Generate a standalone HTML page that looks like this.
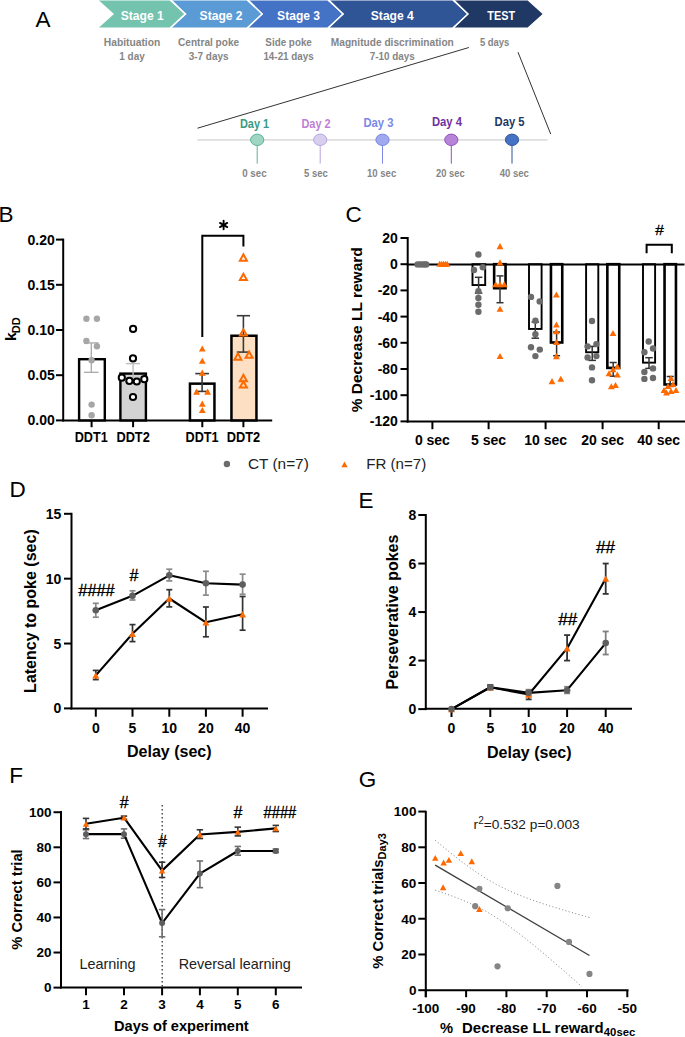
<!DOCTYPE html><html><head><meta charset="utf-8"><style>html,body{margin:0;padding:0;background:#fff;}svg{display:block;}</style></head><body>
<svg width="685" height="1037" viewBox="0 0 685 1037" font-family='"Liberation Sans", sans-serif'>
<rect width="685" height="1037" fill="#fff"/>
<text x="35.4" y="27.3" font-size="22.5" font-weight="normal" text-anchor="start" fill="#000" >A</text>
<polygon points="99,0.45 169.6,0.45 184.6,13.924999999999999 169.6,27.4 99,27.4 114,13.924999999999999" fill="#73C3AE"/>
<polygon points="171.7,0.45 246.6,0.45 261.6,13.924999999999999 246.6,27.4 171.7,27.4 186.7,13.924999999999999" fill="#5B9BD5"/>
<polygon points="248.2,0.45 327.4,0.45 342.4,13.924999999999999 327.4,27.4 248.2,27.4 263.2,13.924999999999999" fill="#4472C4"/>
<polygon points="329.2,0.45 452.3,0.45 467.3,13.924999999999999 452.3,27.4 329.2,27.4 344.2,13.924999999999999" fill="#2F5597"/>
<polygon points="454.0,0.45 527.6,0.45 542.6,13.924999999999999 527.6,27.4 454.0,27.4 469.0,13.924999999999999" fill="#203864"/>
<text x="142.2" y="19.6" font-size="13.5" font-weight="bold" text-anchor="middle" fill="#fff" textLength="43" lengthAdjust="spacingAndGlyphs" >Stage 1</text>
<text x="221.1" y="19.6" font-size="13.5" font-weight="bold" text-anchor="middle" fill="#fff" textLength="43" lengthAdjust="spacingAndGlyphs" >Stage 2</text>
<text x="298.6" y="19.6" font-size="13.5" font-weight="bold" text-anchor="middle" fill="#fff" textLength="43" lengthAdjust="spacingAndGlyphs" >Stage 3</text>
<text x="392.3" y="19.6" font-size="13.5" font-weight="bold" text-anchor="middle" fill="#fff" textLength="43" lengthAdjust="spacingAndGlyphs" >Stage 4</text>
<text x="501.2" y="19.6" font-size="13.5" font-weight="bold" text-anchor="middle" fill="#fff" textLength="27.7" lengthAdjust="spacingAndGlyphs" >TEST</text>
<polyline points="170.1,-1 185.1,13.924999999999999 170.1,28.4" fill="none" stroke="#fff" stroke-width="1.4"/>
<polyline points="247.1,-1 262.1,13.924999999999999 247.1,28.4" fill="none" stroke="#fff" stroke-width="1.4"/>
<polyline points="327.9,-1 342.9,13.924999999999999 327.9,28.4" fill="none" stroke="#fff" stroke-width="1.4"/>
<polyline points="452.8,-1 467.8,13.924999999999999 452.8,28.4" fill="none" stroke="#fff" stroke-width="1.4"/>
<text x="132.0" y="46.4" font-size="11.5" font-weight="bold" text-anchor="middle" fill="#858585" textLength="56.5" lengthAdjust="spacingAndGlyphs" >Habituation</text>
<text x="132.0" y="60.2" font-size="11.5" font-weight="bold" text-anchor="middle" fill="#858585" textLength="25.4" lengthAdjust="spacingAndGlyphs" >1 day</text>
<text x="208.6" y="46.4" font-size="11.5" font-weight="bold" text-anchor="middle" fill="#858585" textLength="61" lengthAdjust="spacingAndGlyphs" >Central poke</text>
<text x="208.6" y="60.2" font-size="11.5" font-weight="bold" text-anchor="middle" fill="#858585" textLength="39.9" lengthAdjust="spacingAndGlyphs" >3-7 days</text>
<text x="288.6" y="46.4" font-size="11.5" font-weight="bold" text-anchor="middle" fill="#858585" textLength="46.5" lengthAdjust="spacingAndGlyphs" >Side poke</text>
<text x="288.6" y="60.2" font-size="11.5" font-weight="bold" text-anchor="middle" fill="#858585" textLength="50.4" lengthAdjust="spacingAndGlyphs" >14-21 days</text>
<text x="392.3" y="46.4" font-size="11.5" font-weight="bold" text-anchor="middle" fill="#858585" textLength="123" lengthAdjust="spacingAndGlyphs" >Magnitude discrimination</text>
<text x="392.3" y="60.2" font-size="11.5" font-weight="bold" text-anchor="middle" fill="#858585" textLength="45" lengthAdjust="spacingAndGlyphs" >7-10 days</text>
<text x="494.6" y="45.9" font-size="11.5" font-weight="bold" text-anchor="middle" fill="#858585" textLength="29.4" lengthAdjust="spacingAndGlyphs" >5 days</text>
<line x1="197.5" y1="128.2" x2="468.9" y2="47.5" stroke="#333" stroke-width="1.0" />
<line x1="518" y1="52.2" x2="550.7" y2="134" stroke="#333" stroke-width="1.0" />
<line x1="197.3" y1="139.9" x2="547.6" y2="139.9" stroke="#DEDEDE" stroke-width="1.8" />
<line x1="257.2" y1="140" x2="257.2" y2="163.6" stroke="#5DB39A" stroke-width="1.0" />
<ellipse cx="257.2" cy="139.8" rx="6.6" ry="5.7" fill="#9FD5C3" stroke="#5DB39A" stroke-width="1"/>
<text x="254.5" y="127.60000000000001" font-size="13.2" font-weight="bold" text-anchor="middle" fill="#389A80" textLength="29.2" lengthAdjust="spacingAndGlyphs" >Day 1</text>
<text x="254.4" y="177.4" font-size="11" font-weight="bold" text-anchor="middle" fill="#858585" textLength="24.4" lengthAdjust="spacingAndGlyphs" >0 sec</text>
<line x1="320.2" y1="140" x2="320.2" y2="163.6" stroke="#B9A6DF" stroke-width="1.0" />
<ellipse cx="320.2" cy="139.8" rx="6.6" ry="5.7" fill="#D8CEEE" stroke="#B9A6DF" stroke-width="1"/>
<text x="316.0" y="127.60000000000001" font-size="13.2" font-weight="bold" text-anchor="middle" fill="#BF7FD6" textLength="29.2" lengthAdjust="spacingAndGlyphs" >Day 2</text>
<text x="316.0" y="177.4" font-size="11" font-weight="bold" text-anchor="middle" fill="#858585" textLength="23.8" lengthAdjust="spacingAndGlyphs" >5 sec</text>
<line x1="382.5" y1="140" x2="382.5" y2="163.6" stroke="#7C88E4" stroke-width="1.0" />
<ellipse cx="382.5" cy="139.8" rx="6.6" ry="5.7" fill="#A0A8F0" stroke="#7C88E4" stroke-width="1"/>
<text x="378.4" y="127.4" font-size="13.2" font-weight="bold" text-anchor="middle" fill="#7B89E6" textLength="30" lengthAdjust="spacingAndGlyphs" >Day 3</text>
<text x="381.6" y="177.4" font-size="11" font-weight="bold" text-anchor="middle" fill="#858585" textLength="29.2" lengthAdjust="spacingAndGlyphs" >10 sec</text>
<line x1="451.3" y1="140" x2="451.3" y2="163.6" stroke="#8F52BE" stroke-width="1.0" />
<ellipse cx="451.3" cy="139.8" rx="6.6" ry="5.7" fill="#B784DA" stroke="#8F52BE" stroke-width="1"/>
<text x="446.9" y="125.7" font-size="13.2" font-weight="bold" text-anchor="middle" fill="#7030A0" textLength="30" lengthAdjust="spacingAndGlyphs" >Day 4</text>
<text x="450.3" y="176.6" font-size="11" font-weight="bold" text-anchor="middle" fill="#858585" textLength="28.6" lengthAdjust="spacingAndGlyphs" >20 sec</text>
<line x1="512.0" y1="140" x2="512.0" y2="163.6" stroke="#2F5597" stroke-width="1.0" />
<ellipse cx="512.0" cy="139.8" rx="6.6" ry="5.7" fill="#4472C4" stroke="#2F5597" stroke-width="1"/>
<text x="509.6" y="125.7" font-size="13.2" font-weight="bold" text-anchor="middle" fill="#1F3864" textLength="30" lengthAdjust="spacingAndGlyphs" >Day 5</text>
<text x="514.3" y="176.8" font-size="11" font-weight="bold" text-anchor="middle" fill="#858585" textLength="29.2" lengthAdjust="spacingAndGlyphs" >40 sec</text>
<text x="-1.45" y="222.3" font-size="22.5" font-weight="normal" text-anchor="start" fill="#000" >B</text>
<line x1="63.2" y1="238.6" x2="63.2" y2="421.4" stroke="#000" stroke-width="2" />
<line x1="56" y1="420.4" x2="63.2" y2="420.4" stroke="#000" stroke-width="2" />
<text x="54.8" y="425.4" font-size="14" font-weight="bold" text-anchor="end" fill="#000" >0.00</text>
<line x1="56" y1="375.2" x2="63.2" y2="375.2" stroke="#000" stroke-width="2" />
<text x="54.8" y="380.2" font-size="14" font-weight="bold" text-anchor="end" fill="#000" >0.05</text>
<line x1="56" y1="330.0" x2="63.2" y2="330.0" stroke="#000" stroke-width="2" />
<text x="54.8" y="335.0" font-size="14" font-weight="bold" text-anchor="end" fill="#000" >0.10</text>
<line x1="56" y1="284.79999999999995" x2="63.2" y2="284.79999999999995" stroke="#000" stroke-width="2" />
<text x="54.8" y="289.79999999999995" font-size="14" font-weight="bold" text-anchor="end" fill="#000" >0.15</text>
<line x1="56" y1="239.59999999999997" x2="63.2" y2="239.59999999999997" stroke="#000" stroke-width="2" />
<text x="54.8" y="244.59999999999997" font-size="14" font-weight="bold" text-anchor="end" fill="#000" >0.20</text>
<text transform="translate(16.2,341) rotate(-90)" font-size="15.5" font-weight="bold">k<tspan font-size="11" dy="4.0" dx="-0.9">DD</tspan></text>
<line x1="62.2" y1="420.4" x2="272.2" y2="420.4" stroke="#000" stroke-width="2" />
<line x1="91.6" y1="420.4" x2="91.6" y2="427.2" stroke="#000" stroke-width="2" />
<line x1="133.1" y1="420.4" x2="133.1" y2="427.2" stroke="#000" stroke-width="2" />
<line x1="202.3" y1="420.4" x2="202.3" y2="427.2" stroke="#000" stroke-width="2" />
<line x1="243.4" y1="420.4" x2="243.4" y2="427.2" stroke="#000" stroke-width="2" />
<text x="91.2" y="442.0" font-size="14" font-weight="bold" text-anchor="middle" fill="#000" textLength="33.0" lengthAdjust="spacingAndGlyphs" >DDT1</text>
<text x="133.1" y="442.0" font-size="14" font-weight="bold" text-anchor="middle" fill="#000" textLength="33.4" lengthAdjust="spacingAndGlyphs" >DDT2</text>
<text x="202.0" y="442.0" font-size="14" font-weight="bold" text-anchor="middle" fill="#000" textLength="33.0" lengthAdjust="spacingAndGlyphs" >DDT1</text>
<text x="243.4" y="442.0" font-size="14" font-weight="bold" text-anchor="middle" fill="#000" textLength="33.4" lengthAdjust="spacingAndGlyphs" >DDT2</text>
<rect x="79.10" y="359.20" width="25.70" height="61.20" fill="#fff" stroke="#000" stroke-width="2.4"/>
<rect x="120.40" y="373.60" width="25.50" height="46.80" fill="#D3D3D3" stroke="#000" stroke-width="2.4"/>
<rect x="189.95" y="383.65" width="24.50" height="36.75" fill="#fff" stroke="#000" stroke-width="2.5"/>
<rect x="231.45" y="335.75" width="25.00" height="84.65" fill="#FDE0C4" stroke="#000" stroke-width="2.5"/>
<line x1="91.3" y1="342.9" x2="91.3" y2="372.3" stroke="#A8A8A8" stroke-width="1.3" />
<line x1="84.05" y1="342.9" x2="98.55" y2="342.9" stroke="#A8A8A8" stroke-width="1.3" />
<line x1="84.05" y1="372.3" x2="98.55" y2="372.3" stroke="#A8A8A8" stroke-width="1.3" />
<line x1="133.1" y1="363.6" x2="133.1" y2="377.6" stroke="#BDBDBD" stroke-width="1.4" />
<line x1="126.1" y1="363.6" x2="140.1" y2="363.6" stroke="#BDBDBD" stroke-width="1.4" />
<line x1="126.1" y1="377.6" x2="140.1" y2="377.6" stroke="#BDBDBD" stroke-width="1.4" />
<line x1="202.1" y1="373.6" x2="202.1" y2="391.4" stroke="#3A3A3A" stroke-width="1.6" />
<line x1="195.25" y1="373.6" x2="208.95" y2="373.6" stroke="#3A3A3A" stroke-width="1.6" />
<line x1="195.25" y1="391.4" x2="208.95" y2="391.4" stroke="#3A3A3A" stroke-width="1.6" />
<line x1="243.4" y1="315.7" x2="243.4" y2="352.1" stroke="#3A3A3A" stroke-width="1.6" />
<line x1="236.75" y1="315.7" x2="250.05" y2="315.7" stroke="#3A3A3A" stroke-width="1.6" />
<line x1="236.75" y1="352.1" x2="250.05" y2="352.1" stroke="#3A3A3A" stroke-width="1.6" />
<circle cx="86.40" cy="318.70" r="3.2" fill="#A6A6A6" stroke="none" stroke-width="0"/>
<circle cx="96.90" cy="318.70" r="3.2" fill="#A6A6A6" stroke="none" stroke-width="0"/>
<circle cx="86.40" cy="341.00" r="3.2" fill="#A6A6A6" stroke="none" stroke-width="0"/>
<circle cx="96.90" cy="346.20" r="3.2" fill="#A6A6A6" stroke="none" stroke-width="0"/>
<circle cx="91.60" cy="360.20" r="3.2" fill="#A6A6A6" stroke="none" stroke-width="0"/>
<circle cx="91.60" cy="404.60" r="3.2" fill="#A6A6A6" stroke="none" stroke-width="0"/>
<circle cx="91.60" cy="415.30" r="3.2" fill="#A6A6A6" stroke="none" stroke-width="0"/>
<circle cx="133.10" cy="328.90" r="3.1" fill="#fff" stroke="#000" stroke-width="2.0"/>
<circle cx="133.00" cy="358.40" r="3.1" fill="#fff" stroke="#000" stroke-width="2.0"/>
<circle cx="121.80" cy="377.70" r="3.1" fill="#fff" stroke="#000" stroke-width="2.0"/>
<circle cx="129.40" cy="380.90" r="3.1" fill="#fff" stroke="#000" stroke-width="2.0"/>
<circle cx="136.80" cy="381.50" r="3.1" fill="#fff" stroke="#000" stroke-width="2.0"/>
<circle cx="144.30" cy="379.20" r="3.1" fill="#fff" stroke="#000" stroke-width="2.0"/>
<circle cx="133.00" cy="397.00" r="3.1" fill="#fff" stroke="#000" stroke-width="2.0"/>
<polygon points="198.90,351.56 205.70,351.56 202.30,345.44" fill="#FF6A00" stroke="none" stroke-width="0" stroke-linejoin="miter"/>
<polygon points="198.90,363.76 205.70,363.76 202.30,357.64" fill="#FF6A00" stroke="none" stroke-width="0" stroke-linejoin="miter"/>
<polygon points="198.90,375.66 205.70,375.66 202.30,369.54" fill="#FF6A00" stroke="none" stroke-width="0" stroke-linejoin="miter"/>
<polygon points="193.20,394.66 200.00,394.66 196.60,388.54" fill="#FF6A00" stroke="none" stroke-width="0" stroke-linejoin="miter"/>
<polygon points="204.20,394.66 211.00,394.66 207.60,388.54" fill="#FF6A00" stroke="none" stroke-width="0" stroke-linejoin="miter"/>
<polygon points="198.90,406.66 205.70,406.66 202.30,400.54" fill="#FF6A00" stroke="none" stroke-width="0" stroke-linejoin="miter"/>
<polygon points="198.90,413.06 205.70,413.06 202.30,406.94" fill="#FF6A00" stroke="none" stroke-width="0" stroke-linejoin="miter"/>
<polygon points="239.90,260.65 246.90,260.65 243.40,254.35" fill="none" stroke="#FF6A00" stroke-width="2.0" stroke-linejoin="miter"/>
<polygon points="239.90,280.05 246.90,280.05 243.40,273.75" fill="none" stroke="#FF6A00" stroke-width="2.0" stroke-linejoin="miter"/>
<polygon points="239.90,335.55 246.90,335.55 243.40,329.25" fill="none" stroke="#FF6A00" stroke-width="2.0" stroke-linejoin="miter"/>
<polygon points="234.40,359.65 241.40,359.65 237.90,353.35" fill="none" stroke="#FF6A00" stroke-width="2.0" stroke-linejoin="miter"/>
<polygon points="245.60,357.75 252.60,357.75 249.10,351.45" fill="none" stroke="#FF6A00" stroke-width="2.0" stroke-linejoin="miter"/>
<polygon points="239.90,381.15 246.90,381.15 243.40,374.85" fill="none" stroke="#FF6A00" stroke-width="2.0" stroke-linejoin="miter"/>
<polygon points="239.90,387.55 246.90,387.55 243.40,381.25" fill="none" stroke="#FF6A00" stroke-width="2.0" stroke-linejoin="miter"/>
<polyline points="202.3,337.1 202.3,235.7 243.4,235.7 243.4,246.5" fill="none" stroke="#000" stroke-width="2"/>
<line x1="223.60" y1="220.80" x2="223.60" y2="229.20" stroke="#000" stroke-width="1.9" stroke-linecap="round"/>
<line x1="219.96" y1="222.90" x2="227.24" y2="227.10" stroke="#000" stroke-width="1.9" stroke-linecap="round"/>
<line x1="227.24" y1="222.90" x2="219.96" y2="227.10" stroke="#000" stroke-width="1.9" stroke-linecap="round"/>
<circle cx="223.60" cy="225.00" r="1.6" fill="#000" stroke="none" stroke-width="0"/>
<text x="345.5" y="222.3" font-size="22.5" font-weight="normal" text-anchor="start" fill="#000" >C</text>
<line x1="407.7" y1="237" x2="407.7" y2="422.5" stroke="#000" stroke-width="2" />
<line x1="400.5" y1="238.0" x2="407.7" y2="238.0" stroke="#000" stroke-width="2" />
<text x="397.9" y="243.0" font-size="14" font-weight="bold" text-anchor="end" fill="#000" >20</text>
<line x1="400.5" y1="264.2" x2="407.7" y2="264.2" stroke="#000" stroke-width="2" />
<text x="397.9" y="269.2" font-size="14" font-weight="bold" text-anchor="end" fill="#000" >0</text>
<line x1="400.5" y1="290.4" x2="407.7" y2="290.4" stroke="#000" stroke-width="2" />
<text x="397.9" y="295.4" font-size="14" font-weight="bold" text-anchor="end" fill="#000" >-20</text>
<line x1="400.5" y1="316.6" x2="407.7" y2="316.6" stroke="#000" stroke-width="2" />
<text x="397.9" y="321.6" font-size="14" font-weight="bold" text-anchor="end" fill="#000" >-40</text>
<line x1="400.5" y1="342.8" x2="407.7" y2="342.8" stroke="#000" stroke-width="2" />
<text x="397.9" y="347.8" font-size="14" font-weight="bold" text-anchor="end" fill="#000" >-60</text>
<line x1="400.5" y1="369.0" x2="407.7" y2="369.0" stroke="#000" stroke-width="2" />
<text x="397.9" y="374.0" font-size="14" font-weight="bold" text-anchor="end" fill="#000" >-80</text>
<line x1="400.5" y1="395.2" x2="407.7" y2="395.2" stroke="#000" stroke-width="2" />
<text x="397.9" y="400.2" font-size="14" font-weight="bold" text-anchor="end" fill="#000" >-100</text>
<line x1="400.5" y1="421.4" x2="407.7" y2="421.4" stroke="#000" stroke-width="2" />
<text x="397.9" y="426.4" font-size="14" font-weight="bold" text-anchor="end" fill="#000" >-120</text>
<text transform="translate(362,329.8) rotate(-90)" font-size="15.5" font-weight="bold" text-anchor="middle">% Decrease LL reward</text>
<line x1="406.7" y1="421.5" x2="685" y2="421.5" stroke="#000" stroke-width="2" />
<line x1="432.4" y1="421.5" x2="432.4" y2="429.2" stroke="#000" stroke-width="2" />
<text x="432.4" y="444.5" font-size="14" font-weight="bold" text-anchor="middle" fill="#000" >0 sec</text>
<line x1="488.6" y1="421.5" x2="488.6" y2="429.2" stroke="#000" stroke-width="2" />
<text x="488.6" y="444.5" font-size="14" font-weight="bold" text-anchor="middle" fill="#000" >5 sec</text>
<line x1="545.6" y1="421.5" x2="545.6" y2="429.2" stroke="#000" stroke-width="2" />
<text x="545.6" y="444.5" font-size="14" font-weight="bold" text-anchor="middle" fill="#000" >10 sec</text>
<line x1="602.6" y1="421.5" x2="602.6" y2="429.2" stroke="#000" stroke-width="2" />
<text x="602.6" y="444.5" font-size="14" font-weight="bold" text-anchor="middle" fill="#000" >20 sec</text>
<line x1="658.7" y1="421.5" x2="658.7" y2="429.2" stroke="#000" stroke-width="2" />
<text x="658.7" y="444.5" font-size="14" font-weight="bold" text-anchor="middle" fill="#000" >40 sec</text>
<rect x="472.50" y="264.2" width="12.70" height="20.85" fill="#fff" stroke="#000" stroke-width="1.9"/>
<rect x="494.15" y="264.2" width="11.40" height="24.00" fill="#fff" stroke="#000" stroke-width="2.6"/>
<rect x="529.00" y="264.2" width="12.60" height="64.75" fill="#fff" stroke="#000" stroke-width="1.9"/>
<rect x="550.95" y="264.2" width="11.30" height="78.30" fill="#fff" stroke="#000" stroke-width="2.6"/>
<rect x="586.10" y="264.2" width="12.20" height="88.05" fill="#fff" stroke="#000" stroke-width="1.9"/>
<rect x="607.35" y="264.2" width="11.90" height="103.70" fill="#fff" stroke="#000" stroke-width="2.6"/>
<rect x="643.00" y="264.2" width="12.10" height="98.45" fill="#fff" stroke="#000" stroke-width="1.9"/>
<rect x="664.55" y="264.2" width="11.40" height="120.30" fill="#fff" stroke="#000" stroke-width="2.6"/>
<line x1="406.7" y1="264.4" x2="684.5" y2="264.4" stroke="#000" stroke-width="2" />
<line x1="478.6" y1="277.3" x2="478.6" y2="293.1" stroke="#333" stroke-width="1.5" />
<line x1="474.85" y1="277.3" x2="482.35" y2="277.3" stroke="#333" stroke-width="1.5" />
<line x1="474.85" y1="293.1" x2="482.35" y2="293.1" stroke="#333" stroke-width="1.5" />
<line x1="535.3" y1="322" x2="535.3" y2="338.2" stroke="#333" stroke-width="1.5" />
<line x1="531.55" y1="322" x2="539.05" y2="322" stroke="#333" stroke-width="1.5" />
<line x1="531.55" y1="338.2" x2="539.05" y2="338.2" stroke="#333" stroke-width="1.5" />
<line x1="592.2" y1="346.4" x2="592.2" y2="360.4" stroke="#333" stroke-width="1.5" />
<line x1="588.45" y1="346.4" x2="595.95" y2="346.4" stroke="#333" stroke-width="1.5" />
<line x1="588.45" y1="360.4" x2="595.95" y2="360.4" stroke="#333" stroke-width="1.5" />
<line x1="649" y1="357.7" x2="649" y2="368.4" stroke="#333" stroke-width="1.5" />
<line x1="645.25" y1="357.7" x2="652.75" y2="357.7" stroke="#333" stroke-width="1.5" />
<line x1="645.25" y1="368.4" x2="652.75" y2="368.4" stroke="#333" stroke-width="1.5" />
<line x1="500" y1="275.9" x2="500" y2="302.7" stroke="#333" stroke-width="1.5" />
<line x1="496.5" y1="275.9" x2="503.5" y2="275.9" stroke="#333" stroke-width="1.5" />
<line x1="496.5" y1="302.7" x2="503.5" y2="302.7" stroke="#333" stroke-width="1.5" />
<line x1="556.6" y1="332" x2="556.6" y2="355.7" stroke="#333" stroke-width="1.5" />
<line x1="553.1" y1="332" x2="560.1" y2="332" stroke="#333" stroke-width="1.5" />
<line x1="553.1" y1="355.7" x2="560.1" y2="355.7" stroke="#333" stroke-width="1.5" />
<line x1="613.2" y1="362.5" x2="613.2" y2="376.2" stroke="#333" stroke-width="1.5" />
<line x1="609.7" y1="362.5" x2="616.7" y2="362.5" stroke="#333" stroke-width="1.5" />
<line x1="609.7" y1="376.2" x2="616.7" y2="376.2" stroke="#333" stroke-width="1.5" />
<line x1="670.2" y1="376.5" x2="670.2" y2="386.5" stroke="#333" stroke-width="1.5" />
<line x1="666.7" y1="376.5" x2="673.7" y2="376.5" stroke="#333" stroke-width="1.5" />
<line x1="666.7" y1="386.5" x2="673.7" y2="386.5" stroke="#333" stroke-width="1.5" />
<circle cx="417.60" cy="264.40" r="3.2" fill="#6B6B6B" stroke="none" stroke-width="0"/>
<circle cx="420.00" cy="264.40" r="3.2" fill="#6B6B6B" stroke="none" stroke-width="0"/>
<circle cx="422.40" cy="264.40" r="3.2" fill="#6B6B6B" stroke="none" stroke-width="0"/>
<circle cx="424.80" cy="264.40" r="3.2" fill="#6B6B6B" stroke="none" stroke-width="0"/>
<circle cx="426.20" cy="264.40" r="3.2" fill="#6B6B6B" stroke="none" stroke-width="0"/>
<polygon points="436.30,266.77 442.90,266.77 439.60,260.83" fill="#FF6A00" stroke="none" stroke-width="0" stroke-linejoin="miter"/>
<polygon points="438.20,266.77 444.80,266.77 441.50,260.83" fill="#FF6A00" stroke="none" stroke-width="0" stroke-linejoin="miter"/>
<polygon points="440.10,266.77 446.70,266.77 443.40,260.83" fill="#FF6A00" stroke="none" stroke-width="0" stroke-linejoin="miter"/>
<polygon points="442.00,266.77 448.60,266.77 445.30,260.83" fill="#FF6A00" stroke="none" stroke-width="0" stroke-linejoin="miter"/>
<polygon points="443.90,266.77 450.50,266.77 447.20,260.83" fill="#FF6A00" stroke="none" stroke-width="0" stroke-linejoin="miter"/>
<circle cx="478.40" cy="254.50" r="3.2" fill="#6B6B6B" stroke="none" stroke-width="0"/>
<circle cx="474.00" cy="270.00" r="3.2" fill="#6B6B6B" stroke="none" stroke-width="0"/>
<circle cx="482.80" cy="267.30" r="3.2" fill="#6B6B6B" stroke="none" stroke-width="0"/>
<circle cx="478.40" cy="291.30" r="3.2" fill="#6B6B6B" stroke="none" stroke-width="0"/>
<circle cx="478.40" cy="298.00" r="3.2" fill="#6B6B6B" stroke="none" stroke-width="0"/>
<circle cx="478.40" cy="304.80" r="3.2" fill="#6B6B6B" stroke="none" stroke-width="0"/>
<circle cx="478.40" cy="311.80" r="3.2" fill="#6B6B6B" stroke="none" stroke-width="0"/>
<circle cx="531.00" cy="296.90" r="3.2" fill="#6B6B6B" stroke="none" stroke-width="0"/>
<circle cx="539.70" cy="301.40" r="3.2" fill="#6B6B6B" stroke="none" stroke-width="0"/>
<circle cx="535.40" cy="320.70" r="3.2" fill="#6B6B6B" stroke="none" stroke-width="0"/>
<circle cx="535.40" cy="334.20" r="3.2" fill="#6B6B6B" stroke="none" stroke-width="0"/>
<circle cx="531.00" cy="347.30" r="3.2" fill="#6B6B6B" stroke="none" stroke-width="0"/>
<circle cx="539.80" cy="349.60" r="3.2" fill="#6B6B6B" stroke="none" stroke-width="0"/>
<circle cx="535.40" cy="356.10" r="3.2" fill="#6B6B6B" stroke="none" stroke-width="0"/>
<circle cx="592.00" cy="321.00" r="3.2" fill="#6B6B6B" stroke="none" stroke-width="0"/>
<circle cx="587.60" cy="346.40" r="3.2" fill="#6B6B6B" stroke="none" stroke-width="0"/>
<circle cx="596.40" cy="344.10" r="3.2" fill="#6B6B6B" stroke="none" stroke-width="0"/>
<circle cx="587.60" cy="357.50" r="3.2" fill="#6B6B6B" stroke="none" stroke-width="0"/>
<circle cx="596.40" cy="356.10" r="3.2" fill="#6B6B6B" stroke="none" stroke-width="0"/>
<circle cx="592.00" cy="367.40" r="3.2" fill="#6B6B6B" stroke="none" stroke-width="0"/>
<circle cx="592.00" cy="380.20" r="3.2" fill="#6B6B6B" stroke="none" stroke-width="0"/>
<circle cx="648.70" cy="341.50" r="3.2" fill="#6B6B6B" stroke="none" stroke-width="0"/>
<circle cx="653.00" cy="348.50" r="3.2" fill="#6B6B6B" stroke="none" stroke-width="0"/>
<circle cx="644.40" cy="352.30" r="3.2" fill="#6B6B6B" stroke="none" stroke-width="0"/>
<circle cx="653.00" cy="368.40" r="3.2" fill="#6B6B6B" stroke="none" stroke-width="0"/>
<circle cx="644.40" cy="371.90" r="3.2" fill="#6B6B6B" stroke="none" stroke-width="0"/>
<circle cx="644.40" cy="378.90" r="3.2" fill="#6B6B6B" stroke="none" stroke-width="0"/>
<circle cx="653.00" cy="378.00" r="3.2" fill="#6B6B6B" stroke="none" stroke-width="0"/>
<polygon points="496.60,249.16 503.40,249.16 500.00,243.04" fill="#FF6A00" stroke="none" stroke-width="0" stroke-linejoin="miter"/>
<polygon points="496.60,265.46 503.40,265.46 500.00,259.34" fill="#FF6A00" stroke="none" stroke-width="0" stroke-linejoin="miter"/>
<polygon points="492.20,287.36 499.00,287.36 495.60,281.24" fill="#FF6A00" stroke="none" stroke-width="0" stroke-linejoin="miter"/>
<polygon points="496.60,287.36 503.40,287.36 500.00,281.24" fill="#FF6A00" stroke="none" stroke-width="0" stroke-linejoin="miter"/>
<polygon points="500.90,287.36 507.70,287.36 504.30,281.24" fill="#FF6A00" stroke="none" stroke-width="0" stroke-linejoin="miter"/>
<polygon points="496.60,311.86 503.40,311.86 500.00,305.74" fill="#FF6A00" stroke="none" stroke-width="0" stroke-linejoin="miter"/>
<polygon points="496.60,359.06 503.40,359.06 500.00,352.94" fill="#FF6A00" stroke="none" stroke-width="0" stroke-linejoin="miter"/>
<polygon points="553.00,297.56 559.80,297.56 556.40,291.44" fill="#FF6A00" stroke="none" stroke-width="0" stroke-linejoin="miter"/>
<polygon points="553.00,327.56 559.80,327.56 556.40,321.44" fill="#FF6A00" stroke="none" stroke-width="0" stroke-linejoin="miter"/>
<polygon points="553.00,334.26 559.80,334.26 556.40,328.14" fill="#FF6A00" stroke="none" stroke-width="0" stroke-linejoin="miter"/>
<polygon points="553.00,345.06 559.80,345.06 556.40,338.94" fill="#FF6A00" stroke="none" stroke-width="0" stroke-linejoin="miter"/>
<polygon points="553.00,359.16 559.80,359.16 556.40,353.04" fill="#FF6A00" stroke="none" stroke-width="0" stroke-linejoin="miter"/>
<polygon points="548.60,384.16 555.40,384.16 552.00,378.04" fill="#FF6A00" stroke="none" stroke-width="0" stroke-linejoin="miter"/>
<polygon points="557.40,381.86 564.20,381.86 560.80,375.74" fill="#FF6A00" stroke="none" stroke-width="0" stroke-linejoin="miter"/>
<polygon points="609.60,336.06 616.40,336.06 613.00,329.94" fill="#FF6A00" stroke="none" stroke-width="0" stroke-linejoin="miter"/>
<polygon points="614.00,369.26 620.80,369.26 617.40,363.14" fill="#FF6A00" stroke="none" stroke-width="0" stroke-linejoin="miter"/>
<polygon points="609.60,372.26 616.40,372.26 613.00,366.14" fill="#FF6A00" stroke="none" stroke-width="0" stroke-linejoin="miter"/>
<polygon points="605.60,376.26 612.40,376.26 609.00,370.14" fill="#FF6A00" stroke="none" stroke-width="0" stroke-linejoin="miter"/>
<polygon points="614.00,377.56 620.80,377.56 617.40,371.44" fill="#FF6A00" stroke="none" stroke-width="0" stroke-linejoin="miter"/>
<polygon points="607.90,389.26 614.70,389.26 611.30,383.14" fill="#FF6A00" stroke="none" stroke-width="0" stroke-linejoin="miter"/>
<polygon points="612.10,388.06 618.90,388.06 615.50,381.94" fill="#FF6A00" stroke="none" stroke-width="0" stroke-linejoin="miter"/>
<polygon points="667.60,381.06 674.40,381.06 671.00,374.94" fill="#FF6A00" stroke="none" stroke-width="0" stroke-linejoin="miter"/>
<polygon points="664.60,389.06 671.40,389.06 668.00,382.94" fill="#FF6A00" stroke="none" stroke-width="0" stroke-linejoin="miter"/>
<polygon points="660.60,393.06 667.40,393.06 664.00,386.94" fill="#FF6A00" stroke="none" stroke-width="0" stroke-linejoin="miter"/>
<polygon points="667.60,394.06 674.40,394.06 671.00,387.94" fill="#FF6A00" stroke="none" stroke-width="0" stroke-linejoin="miter"/>
<polygon points="672.60,393.06 679.40,393.06 676.00,386.94" fill="#FF6A00" stroke="none" stroke-width="0" stroke-linejoin="miter"/>
<polygon points="669.60,387.06 676.40,387.06 673.00,380.94" fill="#FF6A00" stroke="none" stroke-width="0" stroke-linejoin="miter"/>
<polygon points="663.10,395.56 669.90,395.56 666.50,389.44" fill="#FF6A00" stroke="none" stroke-width="0" stroke-linejoin="miter"/>
<polyline points="646.6,253.3 646.6,244.7 671.8,244.7 671.8,253.3" fill="none" stroke="#000" stroke-width="2"/>
<text x="659.5" y="235" font-size="15.5" font-weight="normal" text-anchor="middle" fill="#000" stroke="#000" stroke-width="0.3">#</text>
<circle cx="226.90" cy="464.00" r="3.2" fill="#6B6B6B" stroke="none" stroke-width="0"/>
<text x="248.0" y="468.9" font-size="15.5" font-weight="normal" text-anchor="start" fill="#222" textLength="60.8" lengthAdjust="spacingAndGlyphs" >CT (n=7)</text>
<polygon points="341.30,467.28 347.70,467.28 344.50,461.52" fill="#FF6A00" stroke="none" stroke-width="0" stroke-linejoin="miter"/>
<text x="366.2" y="468.9" font-size="15.5" font-weight="normal" text-anchor="start" fill="#222" textLength="60" lengthAdjust="spacingAndGlyphs" >FR (n=7)</text>
<text x="9.4" y="496.9" font-size="22.5" font-weight="normal" text-anchor="start" fill="#000" >D</text>
<line x1="71.5" y1="512.8" x2="71.5" y2="709.4" stroke="#000" stroke-width="2" />
<line x1="64" y1="708.4" x2="71.5" y2="708.4" stroke="#000" stroke-width="2" />
<text x="61.4" y="713.4" font-size="14" font-weight="bold" text-anchor="end" fill="#000" >0</text>
<line x1="64" y1="643.535" x2="71.5" y2="643.535" stroke="#000" stroke-width="2" />
<text x="61.4" y="648.535" font-size="14" font-weight="bold" text-anchor="end" fill="#000" >5</text>
<line x1="64" y1="578.67" x2="71.5" y2="578.67" stroke="#000" stroke-width="2" />
<text x="61.4" y="583.67" font-size="14" font-weight="bold" text-anchor="end" fill="#000" >10</text>
<line x1="64" y1="513.805" x2="71.5" y2="513.805" stroke="#000" stroke-width="2" />
<text x="61.4" y="518.805" font-size="14" font-weight="bold" text-anchor="end" fill="#000" >15</text>
<text transform="translate(35.9,611.1) rotate(-90)" font-size="16" font-weight="bold" text-anchor="middle">Latency to poke (sec)</text>
<line x1="70.5" y1="708.4" x2="268" y2="708.4" stroke="#000" stroke-width="2" />
<line x1="95.8" y1="708.4" x2="95.8" y2="716.7" stroke="#000" stroke-width="2" />
<text x="95.8" y="732.5" font-size="14" font-weight="bold" text-anchor="middle" fill="#000" >0</text>
<line x1="132.5" y1="708.4" x2="132.5" y2="716.7" stroke="#000" stroke-width="2" />
<text x="132.5" y="732.5" font-size="14" font-weight="bold" text-anchor="middle" fill="#000" >5</text>
<line x1="169.3" y1="708.4" x2="169.3" y2="716.7" stroke="#000" stroke-width="2" />
<text x="169.3" y="732.5" font-size="14" font-weight="bold" text-anchor="middle" fill="#000" >10</text>
<line x1="205.9" y1="708.4" x2="205.9" y2="716.7" stroke="#000" stroke-width="2" />
<text x="205.9" y="732.5" font-size="14" font-weight="bold" text-anchor="middle" fill="#000" >20</text>
<line x1="242.6" y1="708.4" x2="242.6" y2="716.7" stroke="#000" stroke-width="2" />
<text x="242.6" y="732.5" font-size="14" font-weight="bold" text-anchor="middle" fill="#000" >40</text>
<text x="169.3" y="756.5" font-size="16" font-weight="bold" text-anchor="middle" fill="#000" >Delay (sec)</text>
<line x1="95.8" y1="603.3" x2="95.8" y2="617.2" stroke="#8A8A8A" stroke-width="1.7" />
<line x1="92.8" y1="603.3" x2="98.8" y2="603.3" stroke="#8A8A8A" stroke-width="1.7" />
<line x1="92.8" y1="617.2" x2="98.8" y2="617.2" stroke="#8A8A8A" stroke-width="1.7" />
<line x1="132.5" y1="590.8" x2="132.5" y2="600" stroke="#8A8A8A" stroke-width="1.7" />
<line x1="129.5" y1="590.8" x2="135.5" y2="590.8" stroke="#8A8A8A" stroke-width="1.7" />
<line x1="129.5" y1="600" x2="135.5" y2="600" stroke="#8A8A8A" stroke-width="1.7" />
<line x1="169.3" y1="569.2" x2="169.3" y2="580.9" stroke="#8A8A8A" stroke-width="1.7" />
<line x1="166.3" y1="569.2" x2="172.3" y2="569.2" stroke="#8A8A8A" stroke-width="1.7" />
<line x1="166.3" y1="580.9" x2="172.3" y2="580.9" stroke="#8A8A8A" stroke-width="1.7" />
<line x1="205.9" y1="571.3" x2="205.9" y2="595.1" stroke="#8A8A8A" stroke-width="1.7" />
<line x1="202.9" y1="571.3" x2="208.9" y2="571.3" stroke="#8A8A8A" stroke-width="1.7" />
<line x1="202.9" y1="595.1" x2="208.9" y2="595.1" stroke="#8A8A8A" stroke-width="1.7" />
<line x1="242.6" y1="574.2" x2="242.6" y2="594.3" stroke="#8A8A8A" stroke-width="1.7" />
<line x1="239.6" y1="574.2" x2="245.6" y2="574.2" stroke="#8A8A8A" stroke-width="1.7" />
<line x1="239.6" y1="594.3" x2="245.6" y2="594.3" stroke="#8A8A8A" stroke-width="1.7" />
<line x1="95.8" y1="670.4" x2="95.8" y2="679.6" stroke="#333" stroke-width="1.7" />
<line x1="92.8" y1="670.4" x2="98.8" y2="670.4" stroke="#333" stroke-width="1.7" />
<line x1="92.8" y1="679.6" x2="98.8" y2="679.6" stroke="#333" stroke-width="1.7" />
<line x1="132.5" y1="624.6" x2="132.5" y2="641.6" stroke="#333" stroke-width="1.7" />
<line x1="129.5" y1="624.6" x2="135.5" y2="624.6" stroke="#333" stroke-width="1.7" />
<line x1="129.5" y1="641.6" x2="135.5" y2="641.6" stroke="#333" stroke-width="1.7" />
<line x1="169.3" y1="589.7" x2="169.3" y2="606.9" stroke="#333" stroke-width="1.7" />
<line x1="166.3" y1="589.7" x2="172.3" y2="589.7" stroke="#333" stroke-width="1.7" />
<line x1="166.3" y1="606.9" x2="172.3" y2="606.9" stroke="#333" stroke-width="1.7" />
<line x1="205.9" y1="607" x2="205.9" y2="636.8" stroke="#333" stroke-width="1.7" />
<line x1="202.9" y1="607" x2="208.9" y2="607" stroke="#333" stroke-width="1.7" />
<line x1="202.9" y1="636.8" x2="208.9" y2="636.8" stroke="#333" stroke-width="1.7" />
<line x1="242.6" y1="596.5" x2="242.6" y2="630.2" stroke="#333" stroke-width="1.7" />
<line x1="239.6" y1="596.5" x2="245.6" y2="596.5" stroke="#333" stroke-width="1.7" />
<line x1="239.6" y1="630.2" x2="245.6" y2="630.2" stroke="#333" stroke-width="1.7" />
<polyline points="95.8,610.2 132.5,595.8 169.3,575.3 205.9,583.3 242.6,584.6" fill="none" stroke="#000" stroke-width="2.1" stroke-linejoin="round"/>
<polyline points="95.8,675.4 132.5,633.8 169.3,598.5 205.9,622.3 242.6,614.3" fill="none" stroke="#000" stroke-width="2.1" stroke-linejoin="round"/>
<circle cx="95.80" cy="610.20" r="3.3" fill="#5E5E5E" stroke="none" stroke-width="0"/>
<circle cx="132.50" cy="595.80" r="3.3" fill="#5E5E5E" stroke="none" stroke-width="0"/>
<circle cx="169.30" cy="575.30" r="3.3" fill="#5E5E5E" stroke="none" stroke-width="0"/>
<circle cx="205.90" cy="583.30" r="3.3" fill="#5E5E5E" stroke="none" stroke-width="0"/>
<circle cx="242.60" cy="584.60" r="3.3" fill="#5E5E5E" stroke="none" stroke-width="0"/>
<polygon points="92.30,678.55 99.30,678.55 95.80,672.25" fill="#FF6A00" stroke="none" stroke-width="0" stroke-linejoin="miter"/>
<polygon points="129.00,636.95 136.00,636.95 132.50,630.65" fill="#FF6A00" stroke="none" stroke-width="0" stroke-linejoin="miter"/>
<polygon points="165.80,601.65 172.80,601.65 169.30,595.35" fill="#FF6A00" stroke="none" stroke-width="0" stroke-linejoin="miter"/>
<polygon points="202.40,625.45 209.40,625.45 205.90,619.15" fill="#FF6A00" stroke="none" stroke-width="0" stroke-linejoin="miter"/>
<polygon points="239.10,617.45 246.10,617.45 242.60,611.15" fill="#FF6A00" stroke="none" stroke-width="0" stroke-linejoin="miter"/>
<text x="96.5" y="595.5" font-size="16" font-weight="normal" text-anchor="middle" fill="#000" textLength="36.4" lengthAdjust="spacingAndGlyphs" stroke="#000" stroke-width="0.35">####</text>
<text x="133.9" y="581" font-size="16" font-weight="normal" text-anchor="middle" fill="#000" stroke="#000" stroke-width="0.35">#</text>
<text x="358.5" y="508.0" font-size="22.5" font-weight="normal" text-anchor="start" fill="#000" >E</text>
<line x1="425.8" y1="514" x2="425.8" y2="710.1" stroke="#000" stroke-width="2" />
<line x1="418.3" y1="709.1" x2="425.8" y2="709.1" stroke="#000" stroke-width="2" />
<text x="416.4" y="714.1" font-size="14" font-weight="bold" text-anchor="end" fill="#000" >0</text>
<line x1="418.3" y1="660.58" x2="425.8" y2="660.58" stroke="#000" stroke-width="2" />
<text x="416.4" y="665.58" font-size="14" font-weight="bold" text-anchor="end" fill="#000" >2</text>
<line x1="418.3" y1="612.0600000000001" x2="425.8" y2="612.0600000000001" stroke="#000" stroke-width="2" />
<text x="416.4" y="617.0600000000001" font-size="14" font-weight="bold" text-anchor="end" fill="#000" >4</text>
<line x1="418.3" y1="563.54" x2="425.8" y2="563.54" stroke="#000" stroke-width="2" />
<text x="416.4" y="568.54" font-size="14" font-weight="bold" text-anchor="end" fill="#000" >6</text>
<line x1="418.3" y1="515.02" x2="425.8" y2="515.02" stroke="#000" stroke-width="2" />
<text x="416.4" y="520.02" font-size="14" font-weight="bold" text-anchor="end" fill="#000" >8</text>
<text transform="translate(397.8,612) rotate(-90)" font-size="16" font-weight="bold" text-anchor="middle">Perseverative pokes</text>
<line x1="424.8" y1="708.8" x2="632" y2="708.8" stroke="#000" stroke-width="2" />
<line x1="451.5" y1="708.8" x2="451.5" y2="717" stroke="#000" stroke-width="2" />
<text x="451.5" y="732.5" font-size="14" font-weight="bold" text-anchor="middle" fill="#000" >0</text>
<line x1="490.3" y1="708.8" x2="490.3" y2="717" stroke="#000" stroke-width="2" />
<text x="490.3" y="732.5" font-size="14" font-weight="bold" text-anchor="middle" fill="#000" >5</text>
<line x1="528.7" y1="708.8" x2="528.7" y2="717" stroke="#000" stroke-width="2" />
<text x="528.7" y="732.5" font-size="14" font-weight="bold" text-anchor="middle" fill="#000" >10</text>
<line x1="567.1" y1="708.8" x2="567.1" y2="717" stroke="#000" stroke-width="2" />
<text x="567.1" y="732.5" font-size="14" font-weight="bold" text-anchor="middle" fill="#000" >20</text>
<line x1="605.7" y1="708.8" x2="605.7" y2="717" stroke="#000" stroke-width="2" />
<text x="605.7" y="732.5" font-size="14" font-weight="bold" text-anchor="middle" fill="#000" >40</text>
<text x="529.3" y="757.6" font-size="16" font-weight="bold" text-anchor="middle" fill="#000" >Delay (sec)</text>
<line x1="490.3" y1="684.84" x2="490.3" y2="689.692" stroke="#808080" stroke-width="1.8" />
<line x1="487.3" y1="684.84" x2="493.3" y2="684.84" stroke="#808080" stroke-width="1.8" />
<line x1="487.3" y1="689.692" x2="493.3" y2="689.692" stroke="#808080" stroke-width="1.8" />
<line x1="490.3" y1="685.3252" x2="490.3" y2="689.2068" stroke="#333" stroke-width="1.8" />
<line x1="487.3" y1="685.3252" x2="493.3" y2="685.3252" stroke="#333" stroke-width="1.8" />
<line x1="487.3" y1="689.2068" x2="493.3" y2="689.2068" stroke="#333" stroke-width="1.8" />
<line x1="528.7" y1="689.692" x2="528.7" y2="695.7570000000001" stroke="#808080" stroke-width="1.8" />
<line x1="525.7" y1="689.692" x2="531.7" y2="689.692" stroke="#808080" stroke-width="1.8" />
<line x1="525.7" y1="695.7570000000001" x2="531.7" y2="695.7570000000001" stroke="#808080" stroke-width="1.8" />
<line x1="528.7" y1="690.905" x2="528.7" y2="699.3960000000001" stroke="#333" stroke-width="1.8" />
<line x1="525.7" y1="690.905" x2="531.7" y2="690.905" stroke="#333" stroke-width="1.8" />
<line x1="525.7" y1="699.3960000000001" x2="531.7" y2="699.3960000000001" stroke="#333" stroke-width="1.8" />
<line x1="567.1" y1="686.7808" x2="567.1" y2="693.331" stroke="#808080" stroke-width="1.8" />
<line x1="564.1" y1="686.7808" x2="570.1" y2="686.7808" stroke="#808080" stroke-width="1.8" />
<line x1="564.1" y1="693.331" x2="570.1" y2="693.331" stroke="#808080" stroke-width="1.8" />
<line x1="567.1" y1="635.107" x2="567.1" y2="660.58" stroke="#333" stroke-width="1.8" />
<line x1="564.1" y1="635.107" x2="570.1" y2="635.107" stroke="#333" stroke-width="1.8" />
<line x1="564.1" y1="660.58" x2="570.1" y2="660.58" stroke="#333" stroke-width="1.8" />
<line x1="605.7" y1="631.4680000000001" x2="605.7" y2="654.515" stroke="#808080" stroke-width="1.8" />
<line x1="602.7" y1="631.4680000000001" x2="608.7" y2="631.4680000000001" stroke="#808080" stroke-width="1.8" />
<line x1="602.7" y1="654.515" x2="608.7" y2="654.515" stroke="#808080" stroke-width="1.8" />
<line x1="605.7" y1="563.54" x2="605.7" y2="593.865" stroke="#333" stroke-width="1.8" />
<line x1="602.7" y1="563.54" x2="608.7" y2="563.54" stroke="#333" stroke-width="1.8" />
<line x1="602.7" y1="593.865" x2="608.7" y2="593.865" stroke="#333" stroke-width="1.8" />
<polyline points="451.5,709.10 490.3,687.27 528.7,694.54 567.1,648.45 605.7,578.58" fill="none" stroke="#000" stroke-width="2.1" stroke-linejoin="round"/>
<polyline points="451.5,709.10 490.3,687.27 528.7,692.85 567.1,690.18 605.7,643.11" fill="none" stroke="#000" stroke-width="2.1" stroke-linejoin="round"/>
<polygon points="448.00,712.25 455.00,712.25 451.50,705.95" fill="#FF6A00" stroke="none" stroke-width="0" stroke-linejoin="miter"/>
<polygon points="486.80,690.42 493.80,690.42 490.30,684.12" fill="#FF6A00" stroke="none" stroke-width="0" stroke-linejoin="miter"/>
<polygon points="525.20,697.69 532.20,697.69 528.70,691.39" fill="#FF6A00" stroke="none" stroke-width="0" stroke-linejoin="miter"/>
<polygon points="563.60,651.60 570.60,651.60 567.10,645.30" fill="#FF6A00" stroke="none" stroke-width="0" stroke-linejoin="miter"/>
<polygon points="602.20,581.73 609.20,581.73 605.70,575.43" fill="#FF6A00" stroke="none" stroke-width="0" stroke-linejoin="miter"/>
<circle cx="451.50" cy="709.10" r="3.3" fill="#5E5E5E" stroke="none" stroke-width="0"/>
<circle cx="490.30" cy="687.27" r="3.3" fill="#5E5E5E" stroke="none" stroke-width="0"/>
<circle cx="528.70" cy="692.85" r="3.3" fill="#5E5E5E" stroke="none" stroke-width="0"/>
<circle cx="567.10" cy="690.18" r="3.3" fill="#5E5E5E" stroke="none" stroke-width="0"/>
<circle cx="605.70" cy="643.11" r="3.3" fill="#5E5E5E" stroke="none" stroke-width="0"/>
<text x="567.8" y="624.5" font-size="16" font-weight="normal" text-anchor="middle" fill="#000" textLength="19" lengthAdjust="spacingAndGlyphs" stroke="#000" stroke-width="0.35">##</text>
<text x="605.4" y="552.7" font-size="16" font-weight="normal" text-anchor="middle" fill="#000" textLength="19" lengthAdjust="spacingAndGlyphs" stroke="#000" stroke-width="0.35">##</text>
<text x="9.35" y="782.6" font-size="22.5" font-weight="normal" text-anchor="start" fill="#000" >F</text>
<line x1="61" y1="811" x2="61" y2="988.6" stroke="#000" stroke-width="2" />
<line x1="53.5" y1="987.6" x2="61" y2="987.6" stroke="#000" stroke-width="2" />
<text x="51.6" y="992.4" font-size="13.5" font-weight="bold" text-anchor="end" fill="#000" >0</text>
<line x1="53.5" y1="952.528" x2="61" y2="952.528" stroke="#000" stroke-width="2" />
<text x="51.6" y="957.328" font-size="13.5" font-weight="bold" text-anchor="end" fill="#000" >20</text>
<line x1="53.5" y1="917.456" x2="61" y2="917.456" stroke="#000" stroke-width="2" />
<text x="51.6" y="922.256" font-size="13.5" font-weight="bold" text-anchor="end" fill="#000" >40</text>
<line x1="53.5" y1="882.384" x2="61" y2="882.384" stroke="#000" stroke-width="2" />
<text x="51.6" y="887.184" font-size="13.5" font-weight="bold" text-anchor="end" fill="#000" >60</text>
<line x1="53.5" y1="847.312" x2="61" y2="847.312" stroke="#000" stroke-width="2" />
<text x="51.6" y="852.112" font-size="13.5" font-weight="bold" text-anchor="end" fill="#000" >80</text>
<line x1="53.5" y1="812.24" x2="61" y2="812.24" stroke="#000" stroke-width="2" />
<text x="51.6" y="817.04" font-size="13.5" font-weight="bold" text-anchor="end" fill="#000" >100</text>
<text transform="translate(21.9,899.5) rotate(-90)" font-size="14.7" font-weight="bold" text-anchor="middle">% Correct trial</text>
<line x1="60" y1="987.6" x2="302" y2="987.6" stroke="#000" stroke-width="2" />
<line x1="86.0" y1="987.6" x2="86.0" y2="995.3" stroke="#000" stroke-width="2" />
<text x="86.0" y="1009.3" font-size="13.5" font-weight="bold" text-anchor="middle" fill="#000" >1</text>
<line x1="124.0" y1="987.6" x2="124.0" y2="995.3" stroke="#000" stroke-width="2" />
<text x="124.0" y="1009.3" font-size="13.5" font-weight="bold" text-anchor="middle" fill="#000" >2</text>
<line x1="162.1" y1="987.6" x2="162.1" y2="995.3" stroke="#000" stroke-width="2" />
<text x="162.1" y="1009.3" font-size="13.5" font-weight="bold" text-anchor="middle" fill="#000" >3</text>
<line x1="199.9" y1="987.6" x2="199.9" y2="995.3" stroke="#000" stroke-width="2" />
<text x="199.9" y="1009.3" font-size="13.5" font-weight="bold" text-anchor="middle" fill="#000" >4</text>
<line x1="237.8" y1="987.6" x2="237.8" y2="995.3" stroke="#000" stroke-width="2" />
<text x="237.8" y="1009.3" font-size="13.5" font-weight="bold" text-anchor="middle" fill="#000" >5</text>
<line x1="275.8" y1="987.6" x2="275.8" y2="995.3" stroke="#000" stroke-width="2" />
<text x="275.8" y="1009.3" font-size="13.5" font-weight="bold" text-anchor="middle" fill="#000" >6</text>
<text x="181.4" y="1030.7" font-size="14.6" font-weight="bold" text-anchor="middle" fill="#000" >Days of experiment</text>
<line x1="162.2" y1="805" x2="162.2" y2="987" stroke="#222" stroke-width="1.2" stroke-dasharray="1.6,2.4"/>
<text x="79.4" y="969" font-size="14.5" font-weight="normal" text-anchor="start" fill="#222" textLength="56.2" lengthAdjust="spacingAndGlyphs" >Learning</text>
<text x="178.7" y="968.5" font-size="14.5" font-weight="normal" text-anchor="start" fill="#222" textLength="112" lengthAdjust="spacingAndGlyphs" >Reversal learning</text>
<line x1="86.0" y1="829.7760000000001" x2="86.0" y2="838.544" stroke="#6E6E6E" stroke-width="1.6" />
<line x1="82.8" y1="829.7760000000001" x2="89.2" y2="829.7760000000001" stroke="#6E6E6E" stroke-width="1.6" />
<line x1="82.8" y1="838.544" x2="89.2" y2="838.544" stroke="#6E6E6E" stroke-width="1.6" />
<line x1="124.0" y1="828.8992000000001" x2="124.0" y2="838.19328" stroke="#6E6E6E" stroke-width="1.6" />
<line x1="120.8" y1="828.8992000000001" x2="127.2" y2="828.8992000000001" stroke="#6E6E6E" stroke-width="1.6" />
<line x1="120.8" y1="838.19328" x2="127.2" y2="838.19328" stroke="#6E6E6E" stroke-width="1.6" />
<line x1="162.1" y1="909.5648" x2="162.1" y2="936.7456" stroke="#6E6E6E" stroke-width="1.6" />
<line x1="158.9" y1="909.5648" x2="165.29999999999998" y2="909.5648" stroke="#6E6E6E" stroke-width="1.6" />
<line x1="158.9" y1="936.7456" x2="165.29999999999998" y2="936.7456" stroke="#6E6E6E" stroke-width="1.6" />
<line x1="199.9" y1="860.99008" x2="199.9" y2="887.6448" stroke="#6E6E6E" stroke-width="1.6" />
<line x1="196.70000000000002" y1="860.99008" x2="203.1" y2="860.99008" stroke="#6E6E6E" stroke-width="1.6" />
<line x1="196.70000000000002" y1="887.6448" x2="203.1" y2="887.6448" stroke="#6E6E6E" stroke-width="1.6" />
<line x1="237.8" y1="846.4352" x2="237.8" y2="855.2032" stroke="#6E6E6E" stroke-width="1.6" />
<line x1="234.60000000000002" y1="846.4352" x2="241.0" y2="846.4352" stroke="#6E6E6E" stroke-width="1.6" />
<line x1="234.60000000000002" y1="855.2032" x2="241.0" y2="855.2032" stroke="#6E6E6E" stroke-width="1.6" />
<line x1="275.8" y1="849.0656" x2="275.8" y2="852.5728" stroke="#6E6E6E" stroke-width="1.6" />
<line x1="272.6" y1="849.0656" x2="279.0" y2="849.0656" stroke="#6E6E6E" stroke-width="1.6" />
<line x1="272.6" y1="852.5728" x2="279.0" y2="852.5728" stroke="#6E6E6E" stroke-width="1.6" />
<line x1="86.0" y1="818.3776" x2="86.0" y2="828.8992000000001" stroke="#333" stroke-width="1.6" />
<line x1="82.8" y1="818.3776" x2="89.2" y2="818.3776" stroke="#333" stroke-width="1.6" />
<line x1="82.8" y1="828.8992000000001" x2="89.2" y2="828.8992000000001" stroke="#333" stroke-width="1.6" />
<line x1="124.0" y1="816.09792" x2="124.0" y2="819.2544" stroke="#333" stroke-width="1.6" />
<line x1="120.8" y1="816.09792" x2="127.2" y2="816.09792" stroke="#333" stroke-width="1.6" />
<line x1="120.8" y1="819.2544" x2="127.2" y2="819.2544" stroke="#333" stroke-width="1.6" />
<line x1="162.1" y1="862.2176000000001" x2="162.1" y2="877.47392" stroke="#333" stroke-width="1.6" />
<line x1="158.9" y1="862.2176000000001" x2="165.29999999999998" y2="862.2176000000001" stroke="#333" stroke-width="1.6" />
<line x1="158.9" y1="877.47392" x2="165.29999999999998" y2="877.47392" stroke="#333" stroke-width="1.6" />
<line x1="199.9" y1="829.7760000000001" x2="199.9" y2="838.544" stroke="#333" stroke-width="1.6" />
<line x1="196.70000000000002" y1="829.7760000000001" x2="203.1" y2="829.7760000000001" stroke="#333" stroke-width="1.6" />
<line x1="196.70000000000002" y1="838.544" x2="203.1" y2="838.544" stroke="#333" stroke-width="1.6" />
<line x1="237.8" y1="827.1456000000001" x2="237.8" y2="835.9136000000001" stroke="#333" stroke-width="1.6" />
<line x1="234.60000000000002" y1="827.1456000000001" x2="241.0" y2="827.1456000000001" stroke="#333" stroke-width="1.6" />
<line x1="234.60000000000002" y1="835.9136000000001" x2="241.0" y2="835.9136000000001" stroke="#333" stroke-width="1.6" />
<line x1="275.8" y1="825.392" x2="275.8" y2="831.5296000000001" stroke="#333" stroke-width="1.6" />
<line x1="272.6" y1="825.392" x2="279.0" y2="825.392" stroke="#333" stroke-width="1.6" />
<line x1="272.6" y1="831.5296000000001" x2="279.0" y2="831.5296000000001" stroke="#333" stroke-width="1.6" />
<polyline points="86.0,834.16 124.0,834.16 162.1,923.07 199.9,873.62 237.8,850.99 275.8,850.99" fill="none" stroke="#000" stroke-width="2.1" stroke-linejoin="round"/>
<polyline points="86.0,823.81 124.0,817.68 162.1,870.63 199.9,834.51 237.8,831.88 275.8,828.37" fill="none" stroke="#000" stroke-width="2.1" stroke-linejoin="round"/>
<circle cx="86.00" cy="834.16" r="3.0" fill="#5E5E5E" stroke="none" stroke-width="0"/>
<circle cx="124.00" cy="834.16" r="3.0" fill="#5E5E5E" stroke="none" stroke-width="0"/>
<circle cx="162.10" cy="923.07" r="3.0" fill="#5E5E5E" stroke="none" stroke-width="0"/>
<circle cx="199.90" cy="873.62" r="3.0" fill="#5E5E5E" stroke="none" stroke-width="0"/>
<circle cx="237.80" cy="850.99" r="3.0" fill="#5E5E5E" stroke="none" stroke-width="0"/>
<circle cx="275.80" cy="850.99" r="3.0" fill="#5E5E5E" stroke="none" stroke-width="0"/>
<polygon points="82.80,826.69 89.20,826.69 86.00,820.93" fill="#FF6A00" stroke="none" stroke-width="0" stroke-linejoin="miter"/>
<polygon points="120.80,820.56 127.20,820.56 124.00,814.80" fill="#FF6A00" stroke="none" stroke-width="0" stroke-linejoin="miter"/>
<polygon points="158.90,873.51 165.30,873.51 162.10,867.75" fill="#FF6A00" stroke="none" stroke-width="0" stroke-linejoin="miter"/>
<polygon points="196.70,837.39 203.10,837.39 199.90,831.63" fill="#FF6A00" stroke="none" stroke-width="0" stroke-linejoin="miter"/>
<polygon points="234.60,834.76 241.00,834.76 237.80,829.00" fill="#FF6A00" stroke="none" stroke-width="0" stroke-linejoin="miter"/>
<polygon points="272.60,831.25 279.00,831.25 275.80,825.49" fill="#FF6A00" stroke="none" stroke-width="0" stroke-linejoin="miter"/>
<text x="124.3" y="807.5" font-size="16" font-weight="normal" text-anchor="middle" fill="#000" stroke="#000" stroke-width="0.35">#</text>
<text x="162.4" y="847.2" font-size="16" font-weight="normal" text-anchor="middle" fill="#000" stroke="#000" stroke-width="0.35">#</text>
<text x="238.0" y="817.5" font-size="16" font-weight="normal" text-anchor="middle" fill="#000" stroke="#000" stroke-width="0.35">#</text>
<text x="279.9" y="817.5" font-size="16" font-weight="normal" text-anchor="middle" fill="#000" textLength="32.8" lengthAdjust="spacingAndGlyphs" stroke="#000" stroke-width="0.35">####</text>
<text x="358.8" y="786.6" font-size="22.5" font-weight="normal" text-anchor="start" fill="#000" >G</text>
<line x1="425.8" y1="810.8" x2="425.8" y2="997.2" stroke="#000" stroke-width="2" />
<line x1="418.3" y1="990.2" x2="425.8" y2="990.2" stroke="#000" stroke-width="2" />
<text x="416.4" y="995.0" font-size="13.5" font-weight="bold" text-anchor="end" fill="#000" >0</text>
<line x1="418.3" y1="954.4720000000001" x2="425.8" y2="954.4720000000001" stroke="#000" stroke-width="2" />
<text x="416.4" y="959.272" font-size="13.5" font-weight="bold" text-anchor="end" fill="#000" >20</text>
<line x1="418.3" y1="918.744" x2="425.8" y2="918.744" stroke="#000" stroke-width="2" />
<text x="416.4" y="923.544" font-size="13.5" font-weight="bold" text-anchor="end" fill="#000" >40</text>
<line x1="418.3" y1="883.0160000000001" x2="425.8" y2="883.0160000000001" stroke="#000" stroke-width="2" />
<text x="416.4" y="887.816" font-size="13.5" font-weight="bold" text-anchor="end" fill="#000" >60</text>
<line x1="418.3" y1="847.288" x2="425.8" y2="847.288" stroke="#000" stroke-width="2" />
<text x="416.4" y="852.088" font-size="13.5" font-weight="bold" text-anchor="end" fill="#000" >80</text>
<line x1="418.3" y1="811.5600000000001" x2="425.8" y2="811.5600000000001" stroke="#000" stroke-width="2" />
<text x="416.4" y="816.36" font-size="13.5" font-weight="bold" text-anchor="end" fill="#000" >100</text>
<text transform="translate(382.8,968.8) rotate(-90)" font-size="14.8" font-weight="bold">% Correct trials<tspan font-size="11" dy="3">Day3</tspan></text>
<line x1="424.8" y1="990.2" x2="628.5" y2="990.2" stroke="#000" stroke-width="2" />
<line x1="425.8" y1="990.2" x2="425.8" y2="997.2" stroke="#000" stroke-width="2" />
<text x="425.8" y="1012.8" font-size="13.5" font-weight="bold" text-anchor="middle" fill="#000" >-100</text>
<line x1="466.1" y1="990.2" x2="466.1" y2="997.2" stroke="#000" stroke-width="2" />
<text x="466.1" y="1012.8" font-size="13.5" font-weight="bold" text-anchor="middle" fill="#000" >-90</text>
<line x1="506.40000000000003" y1="990.2" x2="506.40000000000003" y2="997.2" stroke="#000" stroke-width="2" />
<text x="506.40000000000003" y="1012.8" font-size="13.5" font-weight="bold" text-anchor="middle" fill="#000" >-80</text>
<line x1="546.7" y1="990.2" x2="546.7" y2="997.2" stroke="#000" stroke-width="2" />
<text x="546.7" y="1012.8" font-size="13.5" font-weight="bold" text-anchor="middle" fill="#000" >-70</text>
<line x1="587.0" y1="990.2" x2="587.0" y2="997.2" stroke="#000" stroke-width="2" />
<text x="587.0" y="1012.8" font-size="13.5" font-weight="bold" text-anchor="middle" fill="#000" >-60</text>
<line x1="627.3" y1="990.2" x2="627.3" y2="997.2" stroke="#000" stroke-width="2" />
<text x="627.3" y="1012.8" font-size="13.5" font-weight="bold" text-anchor="middle" fill="#000" >-50</text>
<text x="440.0" y="1032.9" font-size="14.7" font-weight="bold" text-anchor="start" fill="#000" >%</text>
<text x="462.1" y="1032.9" font-size="14.7" font-weight="bold" text-anchor="start" fill="#000" textLength="141.4" lengthAdjust="spacingAndGlyphs" >Decrease LL reward</text>
<text x="603.8" y="1035.6" font-size="11" font-weight="bold" text-anchor="start" fill="#000" textLength="31.5" lengthAdjust="spacingAndGlyphs" >40sec</text>
<polyline points="435.2,840.20 439.1,843.44 442.9,846.64 446.8,849.81 450.6,852.93 454.5,856.00 458.3,859.02 462.2,861.98 466.1,864.86 469.9,867.67 473.8,870.39 477.6,873.03 481.5,875.57 485.3,878.00 489.2,880.33 493.1,882.55 496.9,884.67 500.8,886.69 504.6,888.60 508.5,890.42 512.4,892.16 516.2,893.81 520.1,895.40 523.9,896.92 527.8,898.38 531.6,899.79 535.5,901.15 539.4,902.48 543.2,903.77 547.1,905.02 550.9,906.25 554.8,907.45 558.6,908.63 562.5,909.79 566.4,910.93 570.2,912.06 574.1,913.17 577.9,914.27 581.8,915.36 585.6,916.43 589.5,917.50" fill="none" stroke="#8a8a8a" stroke-width="1" stroke-dasharray="1.1,2.3"/>
<polyline points="435.2,890.20 439.1,891.47 442.9,892.79 446.8,894.13 450.6,895.53 454.5,896.97 458.3,898.47 462.2,900.03 466.1,901.66 469.9,903.36 473.8,905.15 477.6,907.03 481.5,909.01 485.3,911.09 489.2,913.28 493.1,915.57 496.9,917.97 500.8,920.47 504.6,923.07 508.5,925.76 512.4,928.54 516.2,931.40 520.1,934.33 523.9,937.32 527.8,940.38 531.6,943.48 535.5,946.63 539.4,949.82 543.2,953.05 547.1,956.31 550.9,959.60 554.8,962.91 558.6,966.24 562.5,969.60 566.4,972.97 570.2,976.36 574.1,979.76 577.9,983.18 581.8,986.61" fill="none" stroke="#8a8a8a" stroke-width="1" stroke-dasharray="1.1,2.3"/>
<line x1="435.2" y1="865.2" x2="589.5" y2="955.5" stroke="#404040" stroke-width="1.4" />
<circle cx="479.38" cy="888.81" r="3.1" fill="#858585" stroke="none" stroke-width="0"/>
<circle cx="475.18" cy="906.15" r="3.1" fill="#858585" stroke="none" stroke-width="0"/>
<circle cx="507.76" cy="908.25" r="3.1" fill="#858585" stroke="none" stroke-width="0"/>
<circle cx="557.41" cy="885.92" r="3.1" fill="#858585" stroke="none" stroke-width="0"/>
<circle cx="568.98" cy="941.88" r="3.1" fill="#858585" stroke="none" stroke-width="0"/>
<circle cx="497.51" cy="966.32" r="3.1" fill="#858585" stroke="none" stroke-width="0"/>
<circle cx="589.47" cy="973.94" r="3.1" fill="#858585" stroke="none" stroke-width="0"/>
<polygon points="431.99,860.73 438.49,860.73 435.24,854.88" fill="#FF6A00" stroke="none" stroke-width="0" stroke-linejoin="miter"/>
<polygon points="440.40,865.46 446.90,865.46 443.65,859.61" fill="#FF6A00" stroke="none" stroke-width="0" stroke-linejoin="miter"/>
<polygon points="445.65,862.83 452.15,862.83 448.90,856.98" fill="#FF6A00" stroke="none" stroke-width="0" stroke-linejoin="miter"/>
<polygon points="457.48,856.00 463.98,856.00 460.73,850.15" fill="#FF6A00" stroke="none" stroke-width="0" stroke-linejoin="miter"/>
<polygon points="468.51,864.14 475.01,864.14 471.76,858.29" fill="#FF6A00" stroke="none" stroke-width="0" stroke-linejoin="miter"/>
<polygon points="439.87,890.16 446.37,890.16 443.12,884.31" fill="#FF6A00" stroke="none" stroke-width="0" stroke-linejoin="miter"/>
<polygon points="476.13,911.96 482.63,911.96 479.38,906.11" fill="#FF6A00" stroke="none" stroke-width="0" stroke-linejoin="miter"/>
<text x="473.6" y="829.2" font-size="13.7" fill="#1a1a1a">r<tspan font-size="10" dy="-5.2">2</tspan><tspan dy="5.2">=0.532 p=0.003</tspan></text>
</svg></body></html>
